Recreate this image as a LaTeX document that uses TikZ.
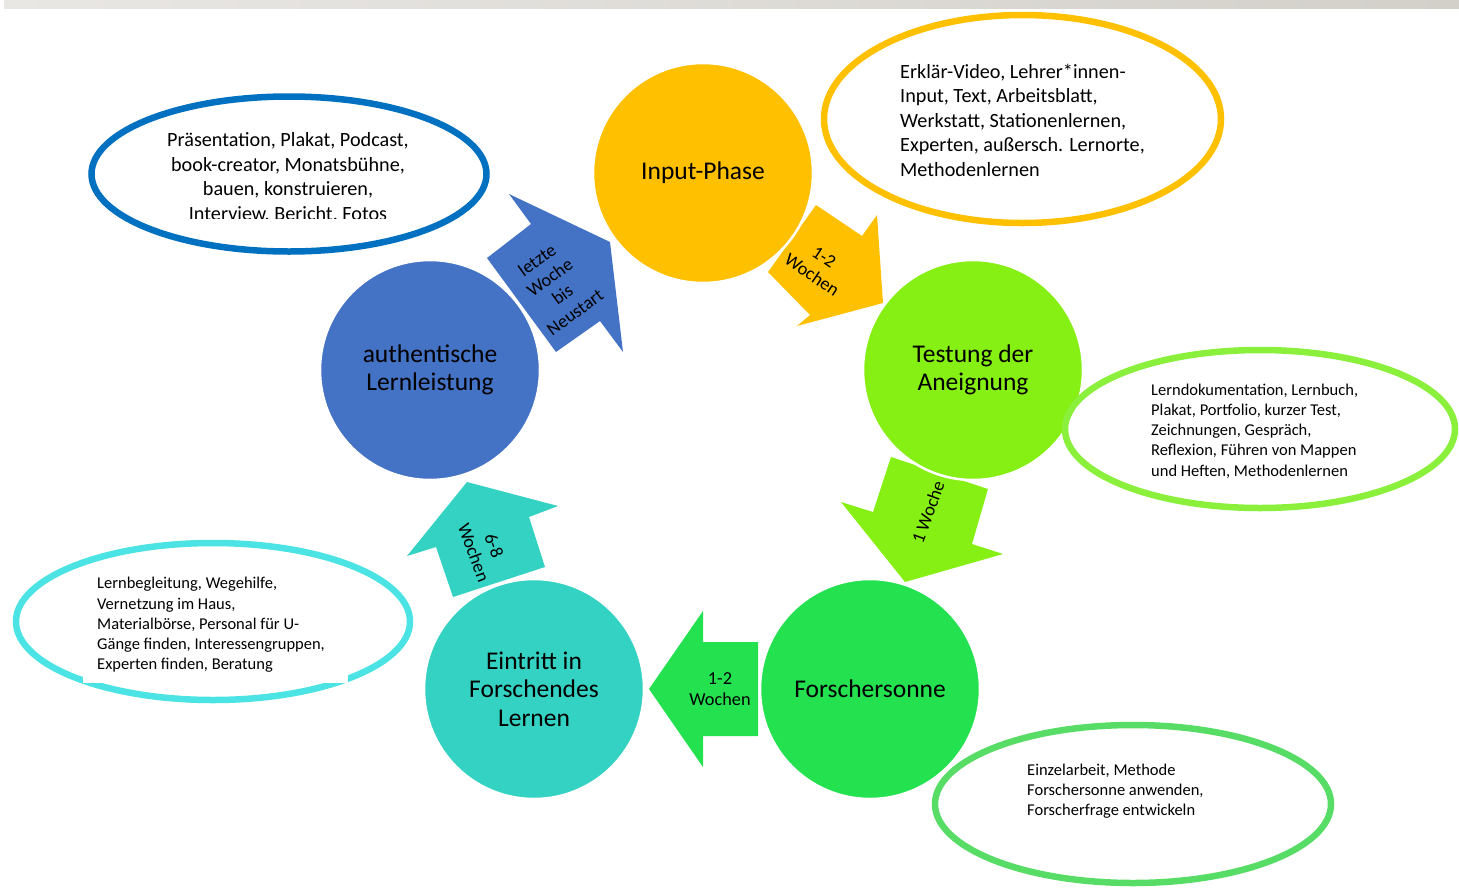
\documentclass[tikz,border=0pt]{standalone}
\usepackage{fontspec}
\setmainfont{Carlito}
\definecolor{cInput}{HTML}{FFC000}
\definecolor{cTest}{HTML}{86EF13}
\definecolor{cTestE}{HTML}{8AF03C}
\definecolor{cForsch}{HTML}{24E150}
\definecolor{cForschE}{HTML}{57DC66}
\definecolor{cEin}{HTML}{34D2C3}
\definecolor{cEinE}{HTML}{4BE3E3}
\definecolor{cAuth}{HTML}{4472C4}
\definecolor{cAuthE}{HTML}{0070C0}
\definecolor{barL}{HTML}{E9E7E4}
\definecolor{barR}{HTML}{D3D0CA}
\begin{document}
\begin{tikzpicture}[x=1pt,y=-1pt,
  phase/.style={circle, minimum size=220pt, inner sep=0pt, draw=white, line width=2.5pt, align=center, font=\fontsize{25.5}{28.5}\selectfont},
  note/.style={line width=6.5pt},
  notetext/.style={align=left, inner sep=0pt, anchor=west, font=\fontsize{16.5}{20.2}\selectfont},
  bignotetext/.style={align=left, inner sep=0pt, font=\fontsize{20.2}{24.5}\selectfont},
  arrowlabel/.style={align=center, inner sep=0pt, font=\fontsize{18.3}{21.5}\selectfont}]
\useasboundingbox (0,0) rectangle (1459,887);
% top bar
\shade[left color=barL, right color=barR] (4,0) rectangle (1459,8);

% block arrows
\fill[cAuth] (509,194) -- (610,242) -- (623,352) -- (600,321) -- (556,352) -- (487,258) -- (531,224) -- cycle;
\fill[cInput] (816,205) -- (862,236) -- (877,215) -- (883,303) -- (797,326) -- (810,315) -- (768,272) -- cycle;
\fill[cTest] (891,457) -- (988,489) -- (972,544) -- (1003,554) -- (905,582) -- (841,502) -- (873,512) -- cycle;
\fill[cForsch] (649,689) -- (703,611) -- (703,642) -- (758,642) -- (758,736) -- (703,736) -- (703,767) -- cycle;
\fill[cEin] (467,482) -- (558,506) -- (529,517) -- (545,567) -- (453,597) -- (436,547) -- (407,556) -- cycle;

\node[arrowlabel, rotate=36] (l1) at (556,286) {letzte\\Woche\\bis\\Neustart};
\node[arrowlabel, rotate=-34] (l2) at (818,266) {1-2\\Wochen};
\node[arrowlabel, rotate=70] (l3) at (928,512) {1 Woche};
\node[arrowlabel] (l4) at (720,689) {1-2\\Wochen};
\node[arrowlabel, rotate=-70] (l5) at (484,549) {6-8\\Wochen};

% phases
\node[phase, fill=cInput] (input) at (703,173) {Input-Phase};
\node[phase, fill=cTest] (test) at (973,370) {Testung der\\Aneignung};
\node[phase, fill=cForsch] (forsch) at (870,689) {Forschersonne};
\node[phase, fill=cEin] (ein) at (534,689) {Eintritt in\\Forschendes\\Lernen};
\node[phase, fill=cAuth] (auth) at (430,370) {authentische\\Lernleistung};

% notes
\draw[note, cAuthE] (289,174) ellipse [x radius=197.5, y radius=77.5];
\begin{scope}
\clip (140,118) rectangle (440,218);
\node[bignotetext, align=center] (nAuth) at (288,178) {Präsentation, Plakat, Podcast,\\book-creator, Monatsbühne,\\bauen, konstruieren,\\Interview, Bericht, Fotos};
\end{scope}

\draw[note, cInput] (1022.5,119) ellipse [x radius=198.5, y radius=104];
\node[bignotetext, anchor=west] (nInput) at (900,120) {Erklär-Video, Lehrer*innen-\\Input, Text, Arbeitsblatt,\\Werkstatt, Stationenlernen,\\Experten, außersch. Lernorte,\\Methodenlernen};

\draw[note, cTestE] (1260,429) ellipse [x radius=195, y radius=79];
\node[notetext] (nTest) at (1151,431) {Lerndokumentation, Lernbuch,\\Plakat, Portfolio, kurzer Test,\\Zeichnungen, Gespräch,\\Reflexion, Führen von Mappen\\und Heften, Methodenlernen};

\draw[note, cEinE] (213,621.5) ellipse [x radius=197, y radius=78.5];
\fill[white] (83,570) rectangle (348,683);
\node[notetext] (nEin) at (97,625) {Lernbegleitung, Wegehilfe,\\Vernetzung im Haus,\\Materialbörse, Personal für U-\\Gänge finden, Interessengruppen,\\Experten finden, Beratung};

\draw[note, cForschE] (1133,804) ellipse [x radius=198, y radius=79];
\node[notetext] (nForsch) at (1027,791) {Einzelarbeit, Methode\\Forschersonne anwenden,\\Forscherfrage entwickeln};
\end{tikzpicture}
\end{document}
